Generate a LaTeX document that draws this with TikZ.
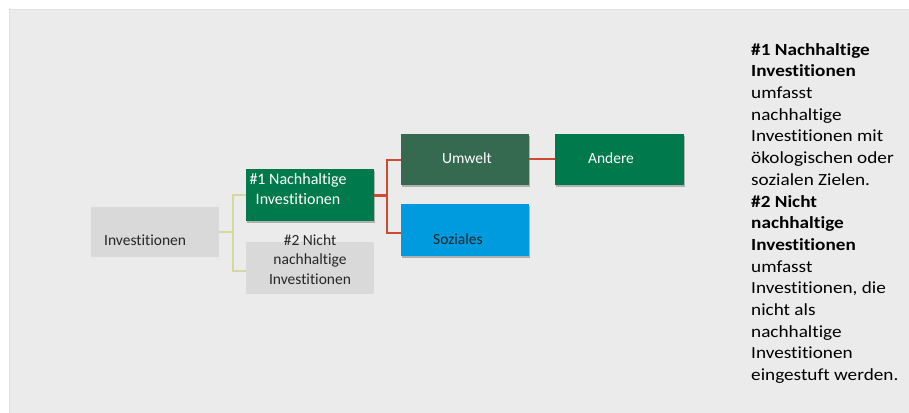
\documentclass[tikz,border=0pt]{standalone}
\usepackage{fontspec}
\setmainfont[RawFeature=-liga]{Carlito}
\newfontfamily\sidefont[FakeStretch=1.13, RawFeature=-liga]{Carlito}
\usetikzlibrary{shadows}
\definecolor{bggray}{HTML}{EBEBEB}
\definecolor{boxgray}{HTML}{D9D9D9}
\definecolor{mygreen}{HTML}{007A4D}
\definecolor{darkgreen}{HTML}{356A51}
\definecolor{myblue}{HTML}{009ADE}
\definecolor{myred}{HTML}{CF4A30}
\definecolor{myyellow}{HTML}{D6D99E}
\definecolor{txt}{HTML}{262626}
\tikzset{
  box/.style={rectangle, inner sep=0pt, minimum width=128pt, minimum height=51pt},
  shbox/.style={box, drop shadow={shadow xshift=1pt, shadow yshift=-2pt, opacity=0.25, fill=black}},
  boxtext/.style={inner sep=0pt, font=\fontsize{15.5}{19.5}\selectfont, align=center},
  yline/.style={draw=myyellow, line width=2pt},
  rline/.style={draw=myred, line width=2pt},
}
\begin{document}
\begin{tikzpicture}[x=1pt,y=-1pt]
\useasboundingbox (0,0) rectangle (909,412);
\fill[white] (0,0) rectangle (909,412);
\draw[fill=bggray, draw=black!12, line width=0.6pt] (9,9) rectangle (909,413);

% boxes
\node[box, fill=boxgray, minimum height=50pt] (inv) at (155,232) {};
\node[shbox, fill=mygreen, minimum height=52pt] (n1) at (310,195) {};
\node[box, fill=boxgray, minimum height=52pt] (n2) at (310,268) {};
\node[shbox, fill=darkgreen] (umw) at (465,159.5) {};
\node[shbox, fill=mygreen, minimum width=129pt] (and) at (619.5,159.5) {};
\node[shbox, fill=myblue, minimum height=52pt] (soz) at (465,230) {};

% texts
\node[boxtext, anchor=west, text=txt] (tinv) at (104,240) {Investitionen};
\node[boxtext, text=white, font=\fontsize{16}{20}\selectfont] (tn1) at (298,189) {\#1 Nachhaltige\\Investitionen};
\node[boxtext, text=txt] (tn2) at (310,259.5) {\#2 Nicht\\nachhaltige\\Investitionen};
\node[boxtext, text=white] (tumw) at (467,158) {Umwelt};
\node[boxtext, text=white] (tand) at (611,158) {Andere};
\node[boxtext, text=txt] (tsoz) at (458,239) {Soziales};

% connectors
\coordinate (yb) at ([xshift=14pt]inv.east);
\draw[yline] (inv.east) -- (yb);
\draw[yline] (yb) |- (n1.west);
\draw[yline] (yb) |- ([yshift=-3pt]n2.west);
\coordinate (rb) at ([xshift=13pt]n1.east);
\draw[rline, line width=3pt] (n1.east) -- (rb);
\draw[rline] (rb) |- (umw.west);
\draw[rline] (rb) |- ([yshift=-3pt]soz.west);
\draw[rline] ([yshift=1pt]umw.east) -- ([yshift=1pt]and.west);

% side text
\node[anchor=north west, inner sep=0pt, align=left, text=black,
      font=\sidefont\fontsize{17}{21.7}\selectfont] (side) at (751,43)
{\textbf{\#1 Nachhaltige}\\
\textbf{Investitionen}\\
umfasst\\
nachhaltige\\
Investitionen mit\\
ökologischen oder\\
sozialen Zielen.\\
\textbf{\#2 Nicht}\\
\textbf{nachhaltige}\\
\textbf{Investitionen}\\
umfasst\\
Investitionen, die\\
nicht als\\
nachhaltige\\
Investitionen\\
eingestuft werden.};
\end{tikzpicture}
\end{document}
